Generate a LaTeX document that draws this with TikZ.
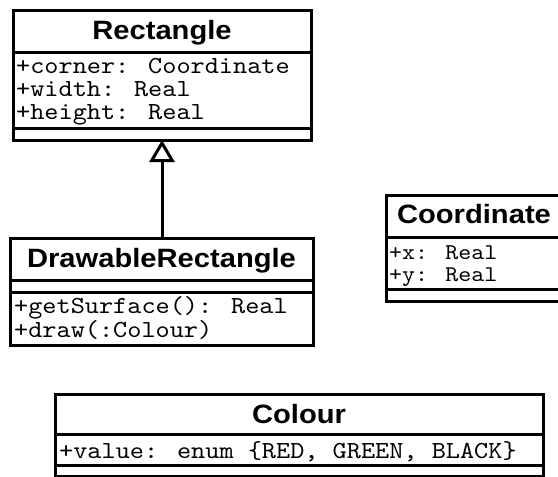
\documentclass[tikz,border=0pt]{standalone}
\usepackage{fontspec}
\usetikzlibrary{arrows.meta}
\newfontfamily\umlsans{Liberation Sans}[FakeStretch=1.1]
\newfontfamily\umlmono{lmmono10-regular}[Extension=.otf, FakeStretch=1.1]

\tikzset{
  umlbox/.style={draw, line width=3pt, fill=white, inner sep=0pt, outer sep=0pt, anchor=north west},
  umlsep/.style={line width=3pt},
  classname/.style={font=\umlsans\bfseries\fontsize{26.5}{30}\selectfont, inner sep=0pt, anchor=base},
  member/.style={font=\umlmono\fontsize{24.5}{27}\selectfont, inner sep=0pt, anchor=base west},
  smallmember/.style={member, font=\umlmono\fontsize{22.5}{25}\selectfont},
  inherits/.style={line width=3pt, -{Triangle[open, length=22pt, width=25pt]}}
}

\begin{document}
\begin{tikzpicture}[x=1pt, y=-1pt]
  \useasboundingbox (0,0) rectangle (558,477);

  % Rectangle
  \node[umlbox, minimum width=298pt, minimum height=130pt] (rect) at (13,10) {};
  \draw[umlsep] (rect.west |- 0,52) -- (rect.east |- 0,52);
  \draw[umlsep] (rect.west |- 0,128) -- (rect.east |- 0,128);
  \node[classname] (rect-name) at (162,39) {Rectangle};
  \node[member] (rect-a1) at (16,73) {+corner: Coordinate};
  \node[member] (rect-a2) at (16,96) {+width: Real};
  \node[member] (rect-a3) at (16,119) {+height: Real};

  % DrawableRectangle
  \node[umlbox, minimum width=303pt, minimum height=107pt] (drect) at (10,238) {};
  \draw[umlsep] (drect.west |- 0,280) -- (drect.east |- 0,280);
  \draw[umlsep] (drect.west |- 0,292) -- (drect.east |- 0,292);
  \node[classname] (drect-name) at (161.5,267) {DrawableRectangle};
  \node[member] (drect-o1) at (14,313) {+getSurface(): Real};
  \node[member] (drect-o2) at (14,337) {+draw(:Colour)};

  % generalisation
  \draw[inherits] (drect.north -| rect.south) -- (rect.south);

  % Coordinate
  \node[umlbox, minimum width=176pt, minimum height=106pt] (coord) at (386,195) {};
  \draw[umlsep] (coord.west |- 0,237) -- (coord.east |- 0,237);
  \draw[umlsep] (coord.west |- 0,289) -- (coord.east |- 0,289);
  \node[classname] (coord-name) at (474,223) {Coordinate};
  \node[smallmember] (coord-a1) at (389,259) {+x: Real};
  \node[smallmember] (coord-a2) at (389,281) {+y: Real};

  % Colour
  \node[umlbox, minimum width=488pt, minimum height=82pt] (colour) at (55,394) {};
  \draw[umlsep] (colour.west |- 0,434) -- (colour.east |- 0,434);
  \draw[umlsep] (colour.west |- 0,465) -- (colour.east |- 0,465);
  \node[classname] (colour-name) at (299,423) {Colour};
  \node[member] (colour-a1) at (59,458) {+value: enum \{RED, GREEN, BLACK\}};
\end{tikzpicture}
\end{document}
